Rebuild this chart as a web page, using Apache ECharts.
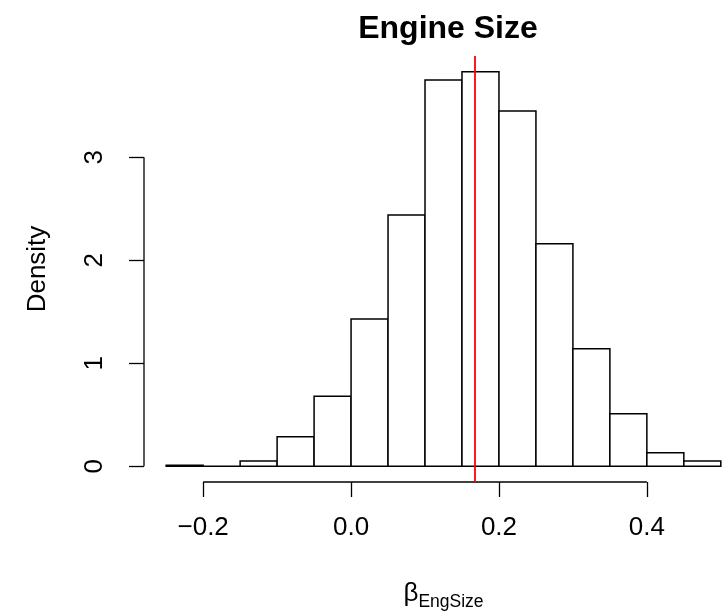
<!DOCTYPE html>
<html>
<head>
<meta charset="utf-8">
<script src="https://cdn.jsdelivr.net/npm/echarts@6/dist/echarts.min.js"></script>
<style>html,body{margin:0;padding:0;background:#fff;overflow:hidden}#c{width:760px;height:616px}</style>
</head>
<body>
<div id="c"></div>
<script>
// Histogram bin edges (width 0.05)
var breaks = [-0.25, -0.2, -0.15, -0.1, -0.05, 0, 0.05, 0.1, 0.15, 0.2, 0.25, 0.3, 0.35, 0.4, 0.45, 0.5];
// Density per bin
var densities = [0.01, 0, 0.05, 0.285, 0.68, 1.43, 2.44, 3.75, 3.83, 3.45, 2.16, 1.14, 0.51, 0.13, 0.05];
// Vertical reference line (mean)
var meanValue = 0.1676;
// Tick labels
var xTicks = [-0.2, 0, 0.2, 0.4];
var xTickLabels = ['\u22120.2', '0.0', '0.2', '0.4'];
var yTicks = [0, 1, 2, 3];
var yTickLabels = ['0', '1', '2', '3'];
var titleText = 'Engine Size';
var yTitle = 'Density';

var FONT = '"Liberation Sans", Arial, Helvetica, sans-serif';

var binData = [];
for (var i = 0; i < densities.length; i++) binData.push([breaks[i], breaks[i + 1], densities[i]]);
var xLo = breaks[0], xHi = breaks[breaks.length - 1];
var xPad = (xHi - xLo) * 0.04;
var yTop = Math.max.apply(null, densities);
var yPad = yTop * 0.04;

var chart = echarts.init(document.getElementById('c'), null, {renderer: 'canvas'});
chart.setOption({
  animation: false,
  backgroundColor: '#ffffff',
  title: {
    text: titleText, left: 443, top: 8, textAlign: 'center',
    textStyle: {fontFamily: FONT, fontWeight: 'bold', fontSize: 32, color: '#000'}
  },
  grid: {left: 144, right: 17, top: 56, bottom: 133, containLabel: false},
  xAxis: {
    type: 'value', min: xLo - xPad, max: xHi + xPad,
    splitLine: {show: false}, axisLine: {show: false, onZero: false},
    axisTick: {show: true, length: 15, customValues: xTicks, lineStyle: {color: '#000', width: 1.3}},
    axisLabel: {
      show: true, customValues: xTicks, margin: 33, fontFamily: FONT, fontSize: 26, color: '#000',
      formatter: function (v) { var k = xTicks.indexOf(v); return k >= 0 ? xTickLabels[k] : ''; }
    },
    name: '{b|\u03B2}{s|EngSize}', nameLocation: 'middle', nameGap: 99,
    nameTextStyle: {
      rich: {
        b: {fontFamily: FONT, fontSize: 26, color: '#000', lineHeight: 30, verticalAlign: 'top'},
        s: {fontFamily: FONT, fontSize: 17.5, color: '#000', lineHeight: 14, verticalAlign: 'bottom'}
      }
    }
  },
  yAxis: {
    type: 'value', min: -yPad, max: yTop + yPad,
    splitLine: {show: false}, axisLine: {show: false, onZero: false},
    axisTick: {show: true, length: 15, customValues: yTicks, lineStyle: {color: '#000', width: 1.3}},
    axisLabel: {
      show: true, customValues: yTicks, margin: 36, rotate: 90, fontFamily: FONT, fontSize: 26, color: '#000',
      formatter: function (v) { var k = yTicks.indexOf(v); return k >= 0 ? yTickLabels[k] : ''; }
    },
    name: yTitle, nameLocation: 'middle', nameGap: 93, nameRotate: 90,
    nameTextStyle: {fontFamily: FONT, fontSize: 26, color: '#000'}
  },
  series: [
    {
      type: 'custom', name: 'bars', clip: false,
      data: binData,
      renderItem: function (params, api) {
        var p0 = api.coord([api.value(0), 0]);
        var p1 = api.coord([api.value(1), api.value(2)]);
        return {
          type: 'rect',
          shape: {x: p0[0], y: p1[1], width: p1[0] - p0[0], height: p0[1] - p1[1]},
          style: {fill: '#ffffff', stroke: '#000000', lineWidth: 1.5}
        };
      }
    },
    {
      type: 'custom', name: 'axes', clip: false,
      data: [[xTicks[0], xTicks[xTicks.length - 1]]],
      renderItem: function (params, api) {
        var yMin = -yPad;
        var xMin = xLo - xPad;
        var a = api.coord([xTicks[0], yMin]);
        var b = api.coord([xTicks[xTicks.length - 1], yMin]);
        var c = api.coord([xMin, yTicks[0]]);
        var d = api.coord([xMin, yTicks[yTicks.length - 1]]);
        return {
          type: 'group',
          children: [
            {type: 'line', shape: {x1: a[0], y1: a[1], x2: b[0], y2: b[1]}, style: {stroke: '#000', lineWidth: 1.3}},
            {type: 'line', shape: {x1: c[0], y1: c[1], x2: d[0], y2: d[1]}, style: {stroke: '#000', lineWidth: 1.3}}
          ]
        };
      }
    },
    {
      type: 'custom', name: 'mean', clip: false,
      data: [[meanValue]],
      renderItem: function (params, api) {
        var t = api.coord([api.value(0), yTop + yPad]);
        var b = api.coord([api.value(0), -yPad]);
        return {type: 'line', shape: {x1: t[0], y1: t[1], x2: b[0], y2: b[1]}, style: {stroke: '#ff0000', lineWidth: 1.8}};
      }
    }
  ]
});
</script>
</body>
</html>
